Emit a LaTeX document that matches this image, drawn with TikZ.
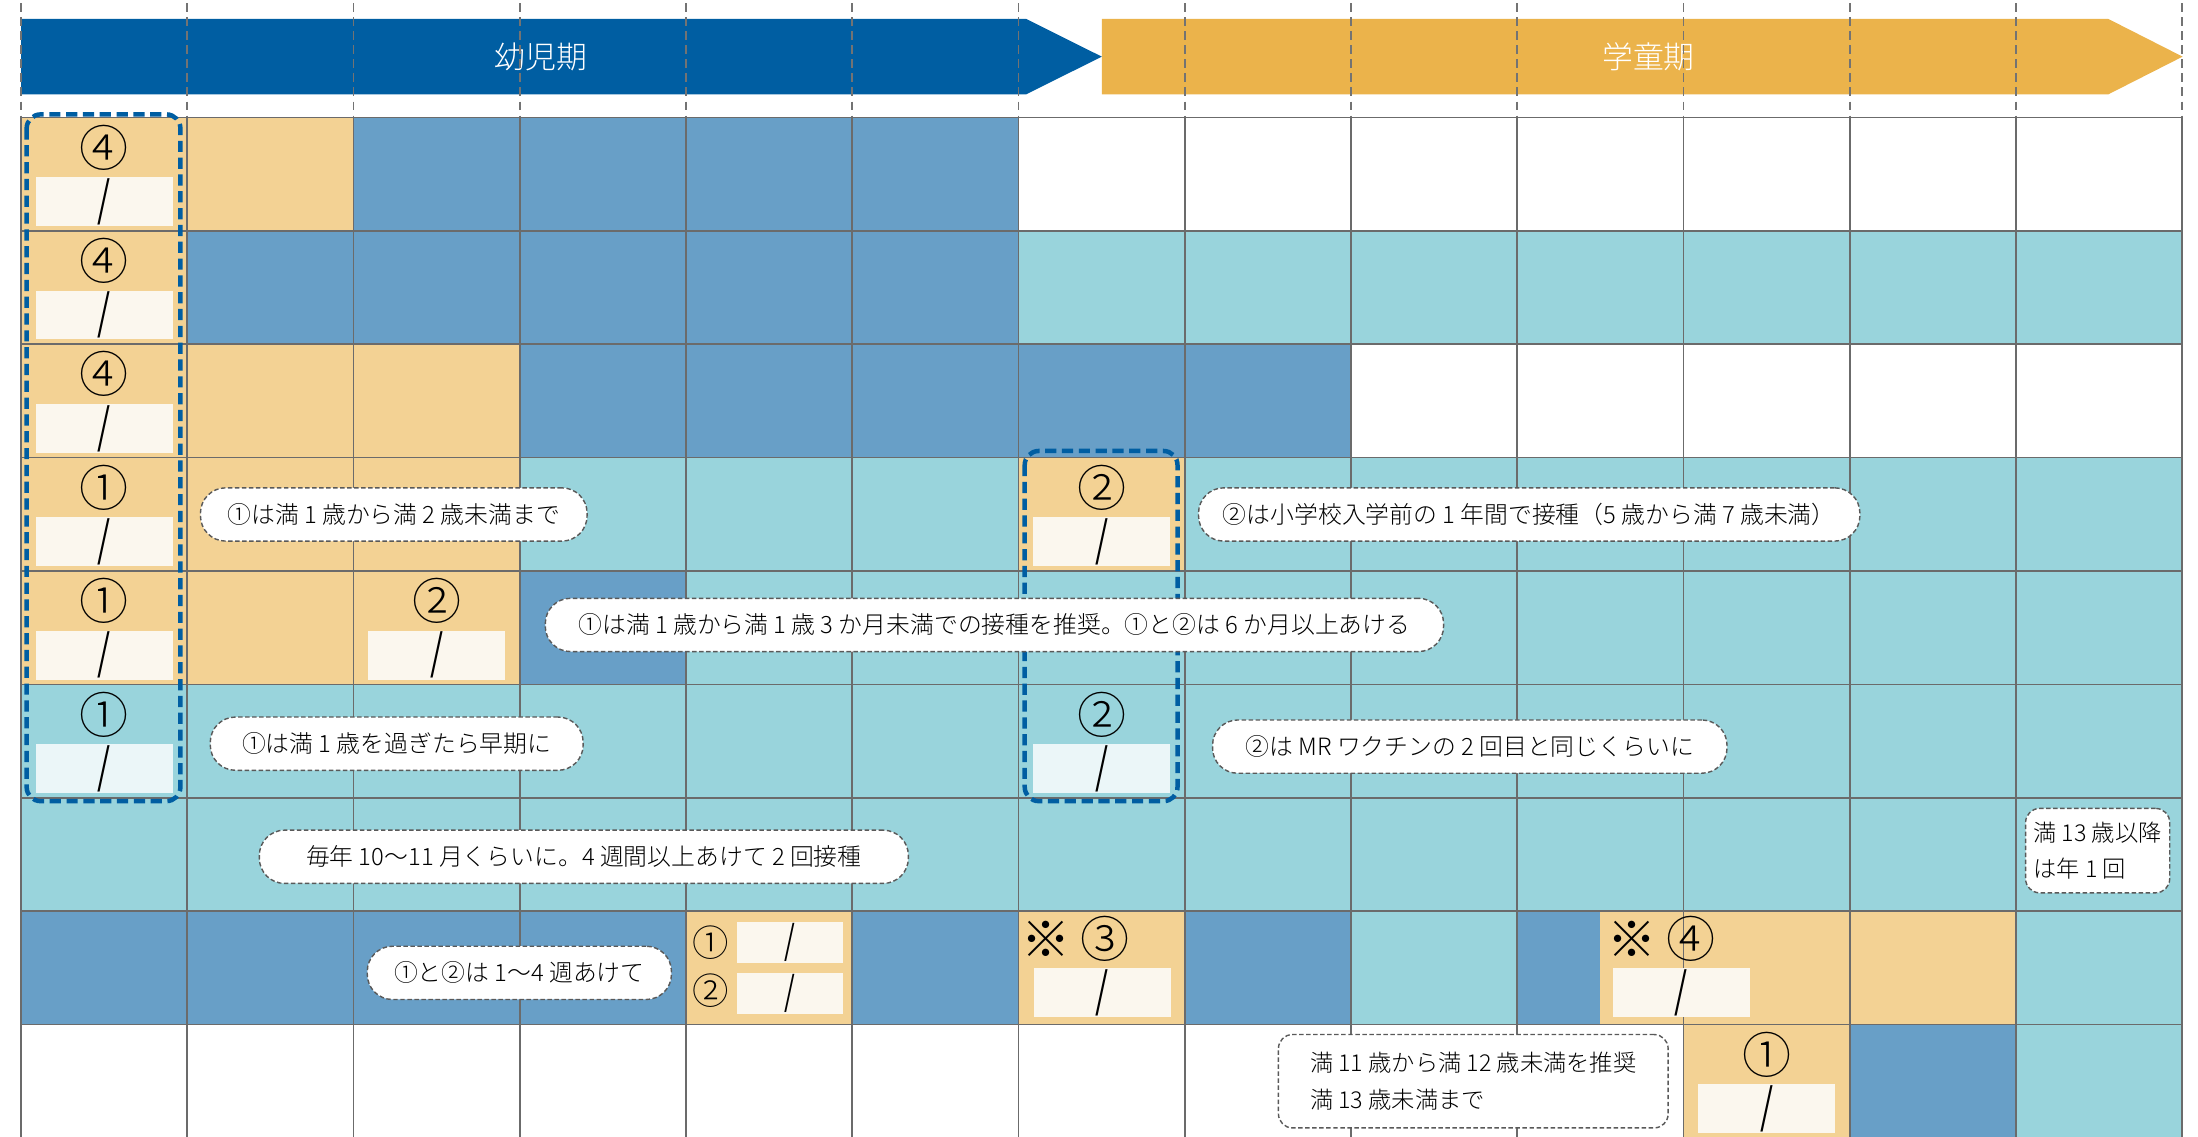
\documentclass[tikz,border=0pt]{standalone}
\usepackage{fontspec}
\IfFontExistsTF{Noto Sans CJK JP Light}{\setmainfont{Noto Sans CJK JP Light}}{\setmainfont{Noto Sans CJK JP}}
\newfontfamily\slashfont{Noto Sans CJK JP}
\definecolor{navy}{HTML}{005EA2}
\definecolor{gold}{HTML}{EBB34B}
\definecolor{cO}{HTML}{F3D294}
\definecolor{cB}{HTML}{689FC7}
\definecolor{cT}{HTML}{99D4DC}
\definecolor{cW}{HTML}{FFFFFF}
\definecolor{cream}{HTML}{FBF7EE}
\definecolor{mist}{HTML}{EBF6F8}
\definecolor{gridgray}{HTML}{6B6B6B}
\newcommand\dateslash{\scalebox{0.7}[1]{/}}
\newcommand\dose[5]{%
\node[num] (#1n) at ({74.3+118.6*(#2-1)},{105.2+80.9*(#3-1)}) {#4};
\node[datebox, fill=#5] (#1d) at ({74.3+118.6*(#2-1)},{143.8+80.9*(#3-1)}) {\dateslash};}
\begin{document}
\begin{tikzpicture}[x=0.5pt, y=-0.5pt,
num/.style={inner sep=0pt, font=\fontsize{17.5}{17.5}\selectfont},
smallnum/.style={inner sep=0pt, font=\fontsize{13}{13}\selectfont},
datebox/.style={fill=cream, inner sep=0pt, minimum width=48.8pt, minimum height=17.4pt, font=\slashfont\fontsize{17}{17}\selectfont},
smallbox/.style={datebox, minimum width=37.8pt, minimum height=14.7pt, font=\slashfont\fontsize{14}{14}\selectfont},
note/.style={draw=black!65, dash pattern=on 1.6pt off 0.9pt, line width=0.5pt, fill=white, rounded corners=9pt, inner sep=0pt, minimum height=19pt, font=\fontsize{8.5}{8.5}\selectfont},
sidenote/.style={note, rounded corners=5pt, align=left, font=\fontsize{8.3}{13}\selectfont},
gridline/.style={gridgray, line width=0.6pt},
guide/.style={black!55, line width=0.6pt, dash pattern=on 3pt off 2pt},
group/.style={navy, line width=1.6pt, dash pattern=on 4pt off 2pt, rounded corners=5pt}]
\useasboundingbox (0,0) rectangle (1568,810.4);
\fill[navy] (15,13.5) -- (732,13.5) -- (786,40.4) -- (732,67.3) -- (15,67.3) -- cycle;
\fill[gold] (786,13.5) -- (1504,13.5) -- (1557,40.4) -- (1504,67.3) -- (786,67.3) -- cycle;
\node[white, font=\fontsize{11}{11}\selectfont] (infant) at (386,40.4) {幼児期};
\node[white, font=\fontsize{11}{11}\selectfont] (school) at (1176,40.4) {学童期};
\foreach \i in {0,...,13}
  \draw[guide] ({15+118.6*\i},2.4) -- ({15+118.6*\i},83.7);

\foreach \row [count=\r] in {{O,O,B,B,B,B,W,W,W,W,W,W,W},{O,B,B,B,B,B,T,T,T,T,T,T,T},
  {O,O,O,B,B,B,B,B,W,W,W,W,W},{O,O,O,T,T,T,O,T,T,T,T,T,T},{O,O,O,B,T,T,T,T,T,T,T,T,T},
  {T,T,T,T,T,T,T,T,T,T,T,T,T},{T,T,T,T,T,T,T,T,T,T,T,T,T},{B,B,B,B,O,B,O,B,T,B,O,O,T},
  {W,W,W,W,W,W,W,W,W,W,O,B,T}}
  \foreach \c [count=\k] in \row
    \fill[fill=c\c] ({15+118.6*(\k-1)},{83.7+80.9*(\r-1)}) rectangle ++(118.6,80.9);
\fill[cO] (1141.7,650) rectangle (1201,730.9);
\foreach \i in {0,...,13}
  \draw[gridline] ({15+118.6*\i},83.7) -- ({15+118.6*\i},812);
\foreach \j in {0,...,8}
  \draw[gridline] (15,{83.7+80.9*\j}) -- (1556.8,{83.7+80.9*\j});

\dose{r1c1}{1}{1}{④}{cream}
\dose{r2c1}{1}{2}{④}{cream}
\dose{r3c1}{1}{3}{④}{cream}
\dose{r4c1}{1}{4}{①}{cream}
\dose{r5c1}{1}{5}{①}{cream}
\dose{r6c1}{1}{6}{①}{mist}
\dose{r5c3}{3}{5}{②}{cream}
\dose{r4c7}{7}{4}{②}{cream}
\dose{r6c7}{7}{6}{②}{mist}
\dose{r9c11}{11}{9}{①}{cream}
\node[smallnum] (r8c5n1) at (507,672.5) {①};
\node[smallnum] (r8c5n2) at (507,707) {②};
\node[smallbox] (r8c5d1) at (563.5,672.2) {\dateslash};
\node[smallbox] (r8c5d2) at (563.5,708.5) {\dateslash};
\node[num, anchor=west] (r8c7n) at (728,670) {※ ③};
\node[datebox] (r8c7d) at (786.2,708.2) {\dateslash};
\node[num, anchor=west] (r8c10n) at (1146,670) {※ ④};
\node[datebox] (r8c10d) at (1199.4,708.2) {\dateslash};

\draw[group] (19,81.6) rectangle (128.7,571.5);
\draw[group] (731,321.7) rectangle (840,571.5);

\node[note, minimum width=137.9pt] (tip1) at (280.9,367) {①は満 1 歳から満 2 歳未満まで};
\node[note, minimum width=235.9pt] (tip2) at (1090.9,367) {②は小学校入学前の 1 年間で接種（5 歳から満 7 歳未満）};
\node[note, minimum width=320.4pt] (tip3) at (709.4,445.8) {①は満 1 歳から満 1 歳 3 か月未満での接種を推奨。①と②は 6 か月以上あける};
\node[note, minimum width=133pt] (tip4) at (283,530.5) {①は満 1 歳を過ぎたら早期に};
\node[note, minimum width=183.5pt] (tip5) at (1048.5,532.6) {②は MR ワクチンの 2 回目と同じくらいに};
\node[note, minimum width=231.5pt] (tip6) at (416.5,611.2) {毎年 10〜11 月くらいに。4 週間以上あけて 2 回接種};
\node[note, minimum width=108.5pt] (tip7) at (370.5,694) {①と②は 1〜4 週あけて};
\node[sidenote, minimum width=51.4pt, minimum height=30.1pt] (tip8) at (1496.4,606.8) {満 13 歳以降\\は年 1 回};
\node[sidenote, minimum width=139pt, minimum height=33.3pt] (tip9) at (1051,771.3) {満 11 歳から満 12 歳未満を推奨\\満 13 歳未満まで};
\end{tikzpicture}
\end{document}
